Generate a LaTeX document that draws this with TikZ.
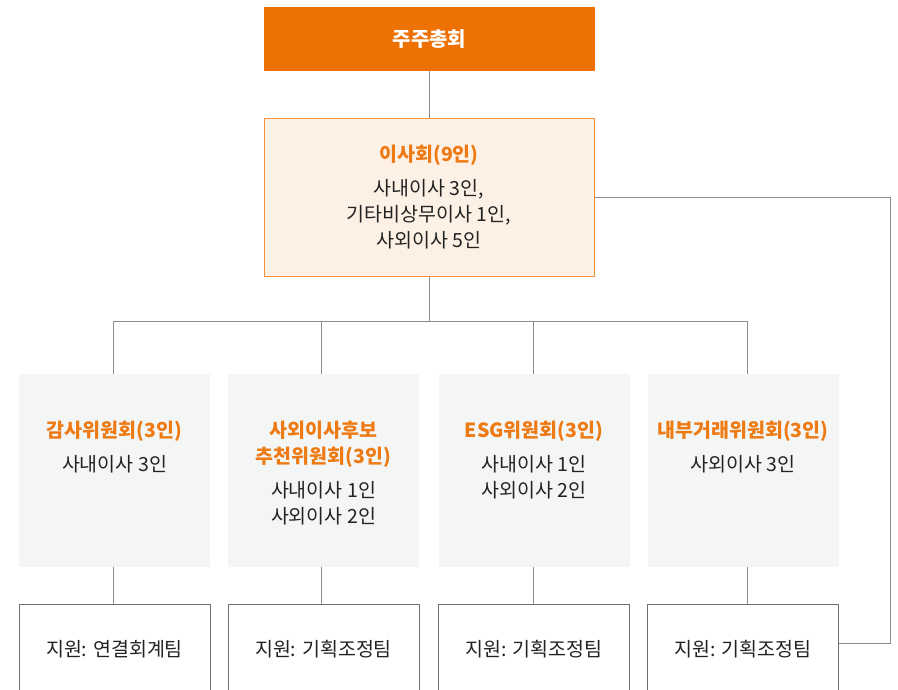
\documentclass[tikz,border=0pt]{standalone}
\usepackage{fontspec}
\setmainfont{Noto Sans CJK KR}
\usepackage{tikz}
\definecolor{govorange}{HTML}{EE7203}
\definecolor{govorangel}{HTML}{FDF1E6}
\definecolor{govoranged}{HTML}{F3923A}
\definecolor{govtitle}{HTML}{EE7A14}
\definecolor{govgrey}{HTML}{F4F6F5}
\definecolor{govline}{HTML}{8C8C8C}
\definecolor{govtext}{HTML}{222222}

\begin{document}
\begin{tikzpicture}[x=1pt,y=-1pt,font=\fontsize{19.5}{26}\selectfont,text=govtext,
  conn/.style={govline,line width=1pt},
  cbox/.style={fill=govgrey,minimum width=191pt,minimum height=193pt,inner sep=0pt},
  ctext/.style={anchor=north,align=center,inner sep=0pt},
  sbox/.style={draw=govline!80!black,line width=1pt,fill=white,minimum width=191pt,minimum height=90pt,inner sep=0pt}]
  \useasboundingbox (0,0) rectangle (898,689);
  \clip (0,0) rectangle (898,689);
  % top
  \node[fill=govorange,minimum width=331pt,minimum height=64pt,text=white,font=\fontsize{20}{26}\selectfont\bfseries] (gm) at (429.5,39) {주주총회};
  \node[draw=govoranged,line width=1pt,fill=govorangel,minimum width=330pt,minimum height=158pt,align=center] (board) at (429,197)
    {{\color{govtitle}\bfseries 이사회(9인)}\\[8pt]사내이사 3인,\\기타비상무이사 1인,\\사외이사 5인};
  \draw[conn] (gm.south) -- (gm.south |- board.north);
  % committees
  \foreach \i/\cx in {1/114.5,2/323.5,3/534,4/743}{
    \node[cbox] (c\i) at (\cx,470.5) {};
    \node[sbox] (s\i) at (\cx,649) {};
  }
  \node[ctext] (c1t) at (c1.north |- 0,421) {{\color{govtitle}\bfseries 감사위원회(3인)}\\[8pt]사내이사 3인};
  \node[ctext] (c2t) at (c2.north |- 0,421) {{\color{govtitle}\bfseries 사외이사후보}\\{\color{govtitle}\bfseries 추천위원회(3인)}\\[8pt]사내이사 1인\\사외이사 2인};
  \node[ctext] (c3t) at (c3.north |- 0,421) {{\color{govtitle}\bfseries ESG위원회(3인)}\\[8pt]사내이사 1인\\사외이사 2인};
  \node[ctext] (c4t) at (c4.north |- 0,421) {{\color{govtitle}\bfseries 내부거래위원회(3인)}\\[8pt]사외이사 3인};
  \node (s1t) at (s1.center) {지원: 연결회계팀};
  \foreach \i in {2,3,4} \node (s\i t) at (s\i.center) {지원: 기획조정팀};
  % connectors
  \coordinate (bus) at (429,321);
  \draw[conn] (board.south) -- (bus);
  \foreach \i/\lx in {1/113,2/321,3/533,4/747} \coordinate (j\i) at (\lx,321);
  \draw[conn] (j1) -- (j4);
  \foreach \i in {1,...,4}{
    \draw[conn] (j\i) -- (j\i |- c\i.north);
    \draw[conn] (j\i |- c\i.south) -- (j\i |- s\i.north);
  }
  \draw[conn] (board.east) -- ++(296,0) |- ([yshift=6pt]s4.east);
\end{tikzpicture}
\end{document}
